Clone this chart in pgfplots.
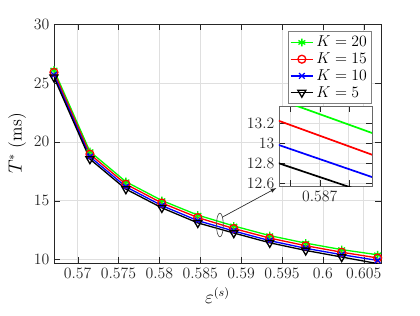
\documentclass[border=0pt]{standalone}
\usepackage{pgfplots}
\pgfplotsset{compat=1.18}
\usepackage{pgfplotstable}
\definecolor{axgray}{RGB}{38,38,38}
\definecolor{gridgray}{RGB}{223,223,223}
\pgfplotstableread{
x      a      b      c      d
0.5671 26.10  25.90  25.68  25.48
0.5715 19.17  18.95  18.73  18.53
0.5759 16.61  16.40  16.18  15.98
0.5803 15.01  14.80  14.58  14.39
0.5847 13.77  13.56  13.30  13.11
0.5891 12.85  12.63  12.42  12.25
0.5935 12.03  11.82  11.60  11.42
0.5979 11.39  11.17  10.95  10.77
0.6023 10.84  10.62  10.41  10.21
0.6067 10.40  10.13  9.92   9.65
}\datatab
\begin{document}
\begin{tikzpicture}
\path (-41pt,-39.5pt) rectangle (278.2pt,199.9pt);
\begin{axis}[
  name=main,
  scale only axis, width=248.5pt, height=181.6pt,
  xmin=0.5671, xmax=0.6071, ymin=9.7, ymax=30,
  xtick={0.57,0.575,0.58,0.585,0.59,0.595,0.6,0.605},
  xticklabels={0.57,0.575,0.58,0.585,0.59,0.595,0.6,0.605},
  ytick={10,15,20,25,30},
  scaled ticks=false,
  tick align=inside,
  grid=major,
  major grid style={gridgray, line width=0.4pt},
  axis line style={axgray, line width=0.5pt},
  tick style={axgray},
  tick label style={font=\fontsize{12}{14}\selectfont, text=axgray},
  xlabel={$\varepsilon^{(s)}$},
  ylabel={$T^{*}$ (ms)},
  xlabel style={font=\fontsize{13.5}{15}\selectfont, yshift=0pt},
  ylabel style={font=\fontsize{13.5}{15}\selectfont, yshift=-1pt},
  legend style={at={(0.9725,0.9707)}, anchor=north east, draw=gray, line width=0.6pt,
    font=\fontsize{11.5}{13}\selectfont, row sep=-1pt, inner sep=1.5pt},
  legend cell align=left,
]
\addplot[green, line width=1pt, mark=asterisk, mark size=3pt] table[x=x,y=a]{\datatab};
\addlegendentry{$K=20$}
\addplot[red, line width=1pt, mark=o, mark size=3pt] table[x=x,y=b]{\datatab};
\addlegendentry{$K=15$}
\addplot[blue, line width=1pt, mark=x, mark size=3pt] table[x=x,y=c]{\datatab};
\addlegendentry{$K=10$}
\addplot[black, line width=1pt, mark=triangle, mark options={rotate=180}, mark size=3.5pt] table[x=x,y=d]{\datatab};
\addlegendentry{$K=5$}
\draw[black!70, line width=0.5pt] (axis cs:0.5874,12.93) ellipse [x radius=2.6pt, y radius=9pt];
\draw[black!85, line width=0.5pt, -latex] (axis cs:0.5877,13.6) -- (axis cs:0.5943,16.07);
\end{axis}
\begin{axis}[
  at={(171pt,58.5pt)}, anchor=south west,
  scale only axis, width=70.7pt, height=60.8pt,
  xmin=0.5863, xmax=0.5879, ymin=12.57, ymax=13.37,
  xtick={0.5865,0.587,0.5875},
  xticklabels={,0.587,},
  ytick={12.6,12.8,13,13.2},
  yticklabels={12.6,12.8,13,13.2},
  scaled ticks=false,
  tick align=inside,
  grid=major,
  major grid style={gridgray, line width=0.4pt},
  axis line style={axgray!70, line width=0.6pt},
  tick style={axgray},
  tick label style={font=\fontsize{12}{14}\selectfont, text=axgray},
  axis background/.style={fill=white},
  clip=true,
]
\addplot[green, line width=1.3pt] table[x=x,y=a]{\datatab};
\addplot[red, line width=1.3pt] table[x=x,y=b]{\datatab};
\addplot[blue, line width=1.3pt] table[x=x,y=c]{\datatab};
\addplot[black, line width=1.3pt] table[x=x,y=d]{\datatab};
\end{axis}
\end{tikzpicture}
\end{document}
